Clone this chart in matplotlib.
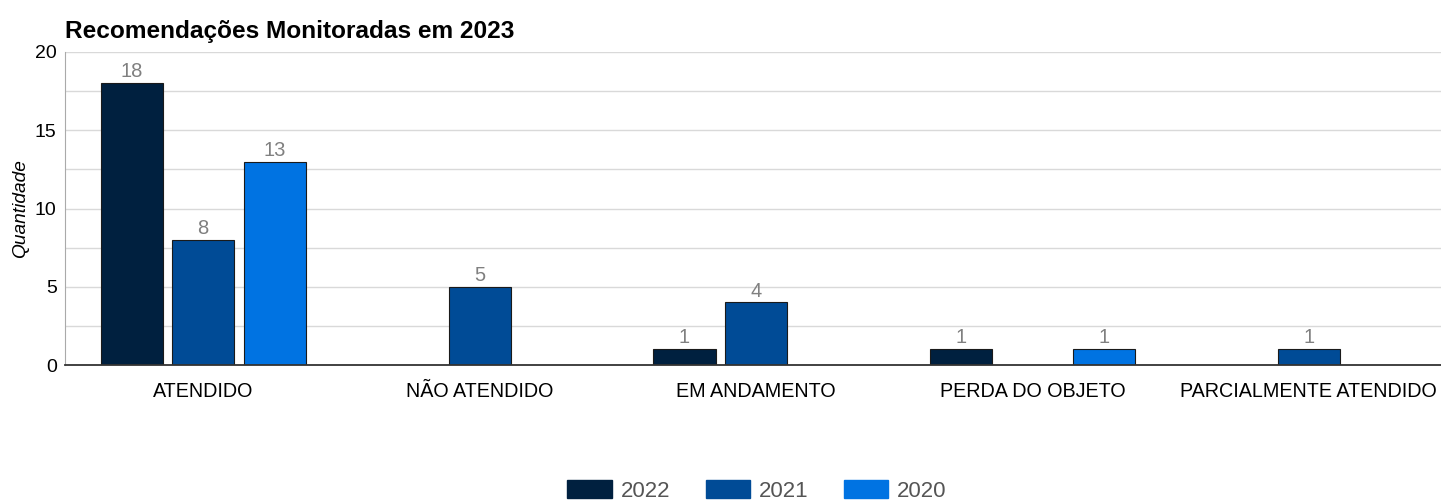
import numpy as np
import matplotlib.pyplot as plt

plt.rcParams['font.family'] = ['Liberation Sans', 'DejaVu Sans']

# Dados
categorias = ['ATENDIDO', 'NÃO ATENDIDO', 'EM ANDAMENTO', 'PERDA DO OBJETO', 'PARCIALMENTE ATENDIDO']
anos = ['2022', '2021', '2020']
valores_2022 = [18, 0, 1, 1, 0]
valores_2021 = [8, 5, 4, 0, 1]
valores_2020 = [13, 0, 0, 1, 0]
cores = ['#00203f', '#004b96', '#0073e2']

series = [valores_2022, valores_2021, valores_2020]

fig = plt.figure(figsize=(14.41, 5.0), dpi=100)
ax = fig.add_axes([65 / 1441, 135 / 500, 1382 / 1441, 313 / 500])

x = np.arange(len(categorias))
passo = 0.259
largura = 0.225
for i, (ano, vals) in enumerate(zip(anos, series)):
    pos = x + (i - 1) * passo
    for p, v in zip(pos, vals):
        if v == 0:
            continue
        ax.bar(p, v, width=largura, color=cores[i], edgecolor='#1a1a1a', linewidth=0.8, zorder=3)
        ax.text(p, v + 0.12, str(v), ha='center', va='bottom', fontsize=14.5, color='#808080')

ax.set_xlim(-0.5, 4.5)
ax.set_ylim(0, 20)
ax.set_yticks([0, 5, 10, 15, 20])
ax.set_yticks(np.arange(0, 20.1, 2.5), minor=True)
ax.grid(axis='y', which='both', color='#d9d9d9', linewidth=1, zorder=0)
ax.tick_params(axis='y', which='both', length=0, labelsize=14, pad=6)
ax.tick_params(axis='x', length=0, labelsize=14.2, pad=12)
ax.set_xticks(x)
ax.set_xticklabels(categorias)

for s in ['top', 'right']:
    ax.spines[s].set_visible(False)
ax.spines['left'].set_color('#aaaaaa')
ax.spines['bottom'].set_color('#333333')
ax.spines['bottom'].set_linewidth(1.3)
ax.spines['bottom'].set_zorder(4)

ax.set_ylabel('Quantidade', fontsize=13.8, fontstyle='italic', labelpad=4)
fig.text(65 / 1441, 1 - 38 / 500, 'Recomendações Monitoradas em 2023', fontsize=17.6,
         fontweight='bold', ha='left', va='baseline')

# Legenda
handles = [plt.Rectangle((0, 0), 1, 1, color=c) for c in cores]
leg = fig.legend(handles, anos, loc='center', bbox_to_anchor=(757 / 1441, 1 - 491 / 500),
                 ncol=3, frameon=False, fontsize=16, handlelength=2.0, handleheight=0.82,
                 handletextpad=0.4, columnspacing=1.6)
for t in leg.get_texts():
    t.set_color('#555555')

fig.savefig('out.png', dpi=100)
